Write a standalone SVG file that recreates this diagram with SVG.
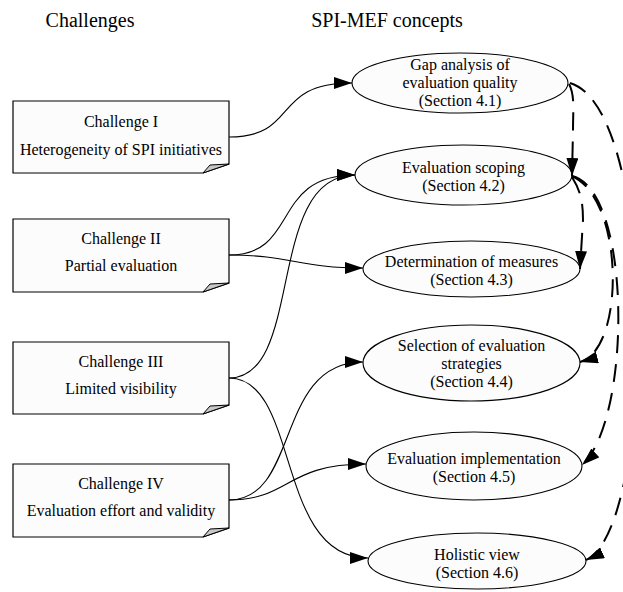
<svg xmlns="http://www.w3.org/2000/svg" width="623" height="592" viewBox="0 0 623 592">
<defs>
<style>
text{font-family:"Liberation Serif","Times New Roman",serif;fill:#000;text-anchor:middle}
.hdr{font-size:20px}
.t{font-size:16px}
.box{fill:#fcfcfc;stroke:#000;stroke-width:1.2}
.fold{fill:#c8c8c8;stroke:#000;stroke-width:1}
.ell{fill:#fcfcfc;stroke:#000;stroke-width:1.1}
.e{fill:none;stroke:#000;stroke-width:1.1;marker-end:url(#ah)}
.d{fill:none;stroke:#000;stroke-width:2;stroke-dasharray:18,11;marker-end:url(#ah)}
</style>
<marker id="ah" viewBox="0 0 18 12" refX="18" refY="6" markerWidth="18" markerHeight="12" markerUnits="userSpaceOnUse" orient="auto">
<path d="M0,0 L18,6 L0,12 z" fill="#000"/>
</marker>
</defs>
<rect width="623" height="592" fill="#fff"/>
<text class="hdr" x="90" y="27">Challenges</text>
<text class="hdr" x="387" y="27">SPI-MEF concepts</text>

<g id="ch1">
<path class="box" d="M13,101 H229 V164 L203,173 H13 Z"/>
<path class="fold" d="M229,164 L210,165 L203,173 Z"/>
<text class="t" x="121" y="127">Challenge I</text>
<text class="t" x="121" y="155">Heterogeneity of SPI initiatives</text>
</g>
<g id="ch2">
<path class="box" d="M13,219 H229 V283 L203,292 H13 Z"/>
<path class="fold" d="M229,283 L210,284 L203,292 Z"/>
<text class="t" x="121" y="244">Challenge II</text>
<text class="t" x="121" y="271">Partial evaluation</text>
</g>
<g id="ch3">
<path class="box" d="M13,342 H229 V405 L203,414 H13 Z"/>
<path class="fold" d="M229,405 L210,406 L203,414 Z"/>
<text class="t" x="121" y="367">Challenge III</text>
<text class="t" x="121" y="394">Limited visibility</text>
</g>
<g id="ch4">
<path class="box" d="M13,464 H229 V528 L203,537 H13 Z"/>
<path class="fold" d="M229,528 L210,529 L203,537 Z"/>
<text class="t" x="121" y="489">Challenge IV</text>
<text class="t" x="121" y="516">Evaluation effort and validity</text>
</g>

<g id="c41">
<ellipse class="ell" cx="460" cy="83" rx="108" ry="30"/>
<text class="t" x="460" y="70">Gap analysis of</text>
<text class="t" x="460" y="88">evaluation quality</text>
<text class="t" x="460" y="106">(Section 4.1)</text>
</g>
<g id="c42">
<ellipse class="ell" cx="463.5" cy="175" rx="108.5" ry="30"/>
<text class="t" x="463.5" y="173">Evaluation scoping</text>
<text class="t" x="463.5" y="191">(Section 4.2)</text>
</g>
<g id="c43">
<ellipse class="ell" cx="471.5" cy="269" rx="108.5" ry="28"/>
<text class="t" x="471.5" y="267">Determination of measures</text>
<text class="t" x="471.5" y="285">(Section 4.3)</text>
</g>
<g id="c44">
<ellipse class="ell" cx="471.5" cy="363" rx="108.5" ry="38"/>
<text class="t" x="471.5" y="351">Selection of evaluation</text>
<text class="t" x="471.5" y="369">strategies</text>
<text class="t" x="471.5" y="387">(Section 4.4)</text>
</g>
<g id="c45">
<ellipse class="ell" cx="474" cy="466" rx="108" ry="34"/>
<text class="t" x="474" y="464">Evaluation implementation</text>
<text class="t" x="474" y="482">(Section 4.5)</text>
</g>
<g id="c46">
<ellipse class="ell" cx="477" cy="561" rx="109" ry="28"/>
<text class="t" x="477" y="560">Holistic view</text>
<text class="t" x="477" y="578">(Section 4.6)</text>
</g>

<g id="connectors">
<path class="e" d="M229,137 C300,137 270,83 352,83"/>
<path class="e" d="M229,255 C300,255 270,175 355,175"/>
<path class="e" d="M229,255 C290,255 300,268 363,268"/>
<path class="e" d="M229,378 C305,378 265,175 355,175"/>
<path class="e" d="M229,378 C300,378 275,558 368,558"/>
<path class="e" d="M229,500 C300,500 275,362 363,362"/>
<path class="e" d="M229,500 C290,500 285,464 366,464"/>
<path class="d" d="M569,84 C575,95 573,110 573,130 L572,176"/>
<path class="d" d="M572,177 C580,190 583,200 583,220 L580,269"/>
<path class="d" d="M572,176 C625,200 625,350 580,362"/>
<path class="d" d="M572,176 C632,190 632,420 582,465"/>
<path class="d" d="M570,83 C660,110 655,530 586,560"/>
</g>
</svg>
